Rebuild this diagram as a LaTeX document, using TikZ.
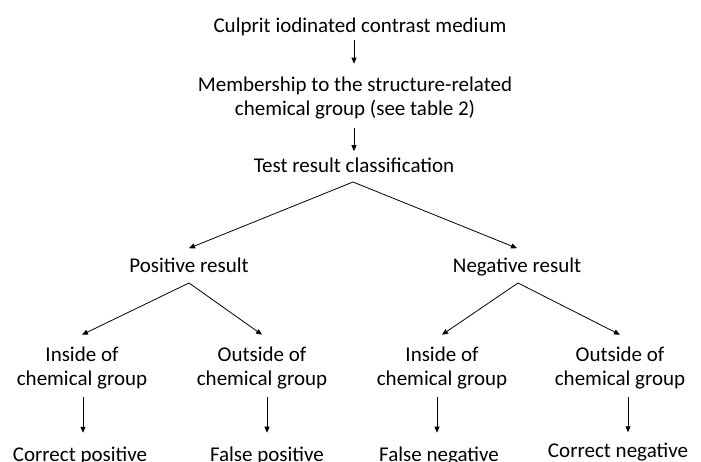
\documentclass[tikz,border=0pt]{standalone}
\usepackage{fontspec}
\setmainfont{Carlito}
\usetikzlibrary{arrows.meta}

\begin{document}
\begin{tikzpicture}[x=1pt,y=-1pt,font=\fontsize{21}{23.5}\selectfont,
  lbl/.style={align=center,inner sep=0pt,anchor=base},
  arr/.style={-{Triangle[length=6pt,width=5pt]},line width=0.8pt}]
  \useasboundingbox (0,0) rectangle (701,461);
  \node[lbl] (culprit) at (360,32) {Culprit iodinated contrast medium};
  \node[lbl] (member) at (355,115) {Membership to the structure-related\\chemical group (see table 2)};
  \node[lbl] (test) at (354,172) {Test result classification};
  \node[lbl] (pos) at (189,272) {Positive result};
  \node[lbl] (neg) at (517,272) {Negative result};
  \coordinate (tsplit) at (353,182);
  \coordinate (psplit) at (189,283);
  \coordinate (nsplit) at (518,283);
  \foreach \n/\x/\t in {pin/82/Inside of,pout/262/Outside of,nin/442/Inside of,nout/620/Outside of}{
    \node[lbl] (\n) at (\x,385) {\t\\chemical group};}
  \foreach \n/\x/\y/\t in {cp/80/461.5/Correct positive,fp/267/461.5/False positive,
    fn/439/461.5/False negative,cn/618/457/Correct negative}{
    \node[lbl] (\n) at (\x,\y) {\t};}
  % connectors
  \draw[arr] ([yshift=-4pt]culprit.south -| test.north) -- ([yshift=13pt]member.north -| test.north);
  \draw[arr] ([yshift=-9pt]member.south -| test.north) -- ([yshift=6pt]test.north);
  \draw[arr] (tsplit) -- ([yshift=9pt]pos.north);
  \draw[arr] (tsplit) -- ([yshift=9pt]neg.north);
  \foreach \a/\b in {psplit/pin,psplit/pout,nsplit/nin,nsplit/nout}{
    \draw[arr] (\a) -- ([yshift=12pt]\b.north);}
  \foreach \a/\b/\dx/\s in {pin/cp/1/14,pout/fp/5/14,nin/fn/-5/14,nout/cn/8/10}{
    \draw[arr] ([xshift=\dx pt,yshift=-8pt]\a.south) -- ([xshift=\dx pt,yshift=\s pt]\a.south |- \b.north);}
\end{tikzpicture}
\end{document}
